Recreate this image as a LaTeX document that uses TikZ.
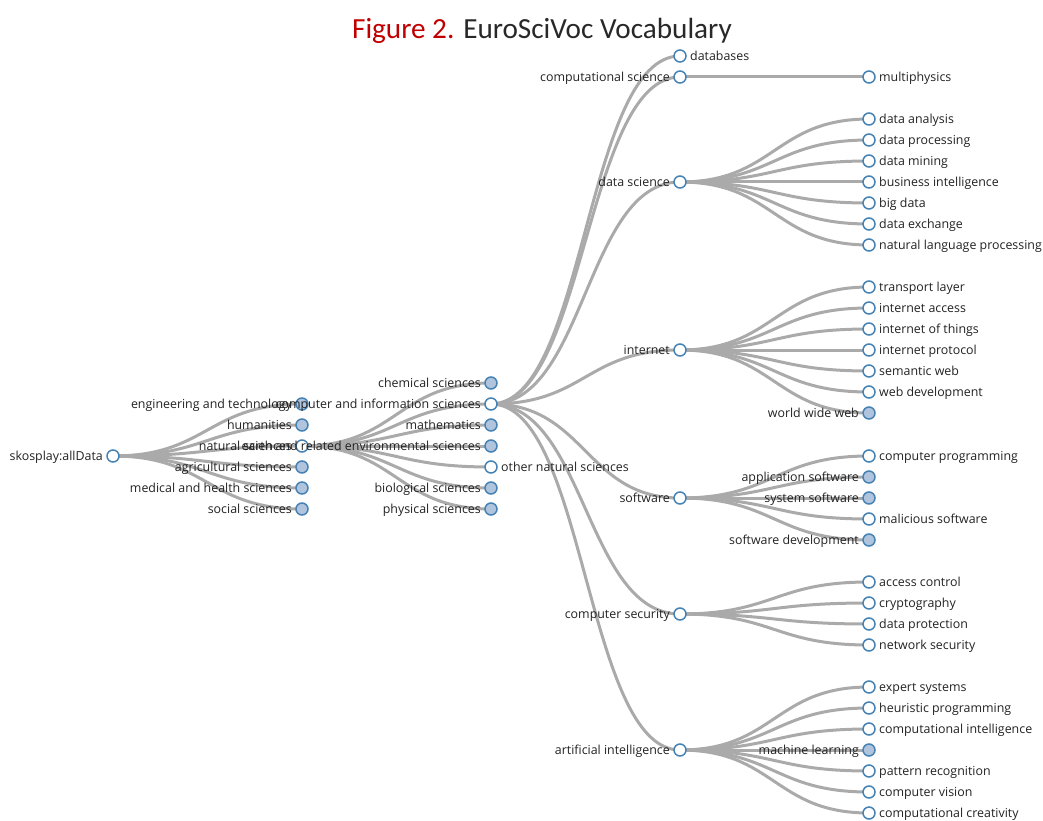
\documentclass[tikz,border=0pt]{standalone}
\usepackage{fontspec}
\setmainfont{Open Sans}
\newfontfamily\titlefont{Carlito}
\usetikzlibrary{backgrounds}
\definecolor{linkgray}{RGB}{170,170,170}
\definecolor{steel}{RGB}{70,130,180}
\definecolor{lsteel}{RGB}{176,196,222}
\definecolor{labelcol}{RGB}{34,34,34}
\definecolor{figred}{RGB}{192,0,0}
\definecolor{titlegray}{RGB}{40,40,40}
\tikzset{
  open/.style={circle, draw=steel, line width=1.5pt, fill=white, minimum size=12pt, inner sep=0pt},
  full/.style={open, fill=lsteel},
  lbl/.style={font=\fontsize{12.4}{14}\selectfont, text=labelcol, inner sep=0pt},
  lblL/.style={lbl, anchor=base east, xshift=-10pt, yshift=-4.3pt},
  lblR/.style={lbl, anchor=base west, xshift=10pt, yshift=-4.3pt},
  link/.style={draw=linkgray, line width=3pt},
  diag/.style={to path={.. controls ([xshift=94.5pt]\tikztostart) and ([xshift=-94.5pt]\tikztotarget) .. (\tikztotarget)}}
}
\newcommand\tnode[6]{\node[#4] (#1) at (#2,#3) {}; \node[lbl#5] (#1-t) at (#2,#3) {#6};}
\begin{document}
\begin{tikzpicture}[x=1pt,y=-1pt]
\useasboundingbox (0,0) rectangle (1043,821);
\node[font=\titlefont\fontsize{29.2}{33}\selectfont, text=titlegray, anchor=base] (title) at (542,39) {\textcolor{figred}{Figure 2.} EuroSciVoc Vocabulary};
% root
\tnode{root}{113}{456}{open}{L}{skosplay:allData}
% level 1
\tnode{eng}{302}{404}{full}{L}{engineering and technology}
\tnode{hum}{302}{425}{full}{L}{humanities}
\tnode{nat}{302}{446}{open}{L}{natural sciences}
\tnode{agr}{302}{467}{full}{L}{agricultural sciences}
\tnode{med}{302}{488}{full}{L}{medical and health sciences}
\tnode{soc}{302}{509}{full}{L}{social sciences}
% level 2
\tnode{chem}{491}{383}{full}{L}{chemical sciences}
\tnode{cis}{491}{404}{open}{L}{computer and information sciences}
\tnode{math}{491}{425}{full}{L}{mathematics}
\tnode{earth}{491}{446}{full}{L}{earth and related environmental sciences}
\tnode{other}{491}{467}{open}{R}{other natural sciences}
\tnode{bio}{491}{488}{full}{L}{biological sciences}
\tnode{phys}{491}{509}{full}{L}{physical sciences}
% level 3
\tnode{db}{680}{56}{open}{R}{databases}
\tnode{comp}{680}{77}{open}{L}{computational science}
\tnode{ds}{680}{182}{open}{L}{data science}
\tnode{inet}{680}{350}{open}{L}{internet}
\tnode{sw}{680}{498}{open}{L}{software}
\tnode{sec}{680}{614}{open}{L}{computer security}
\tnode{ai}{680}{750}{open}{L}{artificial intelligence}
% level 4
\tnode{mp}{869}{77}{open}{R}{multiphysics}
\tnode{da}{869}{119}{open}{R}{data analysis}
\tnode{dp}{869}{140}{open}{R}{data processing}
\tnode{dm}{869}{161}{open}{R}{data mining}
\tnode{bi}{869}{182}{open}{R}{business intelligence}
\tnode{bd}{869}{203}{open}{R}{big data}
\tnode{dx}{869}{224}{open}{R}{data exchange}
\tnode{nlp}{869}{245}{open}{R}{natural language processing}
\tnode{tl}{869}{287}{open}{R}{transport layer}
\tnode{ia}{869}{308}{open}{R}{internet access}
\tnode{iot}{869}{329}{open}{R}{internet of things}
\tnode{ip}{869}{350}{open}{R}{internet protocol}
\tnode{sem}{869}{371}{open}{R}{semantic web}
\tnode{wd}{869}{392}{open}{R}{web development}
\tnode{www}{869}{413}{full}{L}{world wide web}
\tnode{cp}{869}{456}{open}{R}{computer programming}
\tnode{as}{869}{477}{full}{L}{application software}
\tnode{ss}{869}{498}{full}{L}{system software}
\tnode{ms}{869}{519}{open}{R}{malicious software}
\tnode{sd}{869}{540}{full}{L}{software development}
\tnode{ac}{869}{582}{open}{R}{access control}
\tnode{cr}{869}{603}{open}{R}{cryptography}
\tnode{dpr}{869}{624}{open}{R}{data protection}
\tnode{ns}{869}{645}{open}{R}{network security}
\tnode{es}{869}{687}{open}{R}{expert systems}
\tnode{hp}{869}{708}{open}{R}{heuristic programming}
\tnode{ci}{869}{729}{open}{R}{computational intelligence}
\tnode{ml}{869}{750}{full}{L}{machine learning}
\tnode{pr}{869}{771}{open}{R}{pattern recognition}
\tnode{cv}{869}{792}{open}{R}{computer vision}
\tnode{cc}{869}{813}{open}{R}{computational creativity}
\begin{scope}[on background layer]
\foreach \a/\b in {root/eng,root/hum,root/nat,root/agr,root/med,root/soc,
  nat/chem,nat/cis,nat/math,nat/earth,nat/other,nat/bio,nat/phys,
  cis/db,cis/comp,cis/ds,cis/inet,cis/sw,cis/sec,cis/ai,
  comp/mp,ds/da,ds/dp,ds/dm,ds/bi,ds/bd,ds/dx,ds/nlp,
  inet/tl,inet/ia,inet/iot,inet/ip,inet/sem,inet/wd,inet/www,
  sw/cp,sw/as,sw/ss,sw/ms,sw/sd,
  sec/ac,sec/cr,sec/dpr,sec/ns,
  ai/es,ai/hp,ai/ci,ai/ml,ai/pr,ai/cv,ai/cc}
  \draw[link] (\a.center) to[diag] (\b.center);
\end{scope}
\end{tikzpicture}
\end{document}
